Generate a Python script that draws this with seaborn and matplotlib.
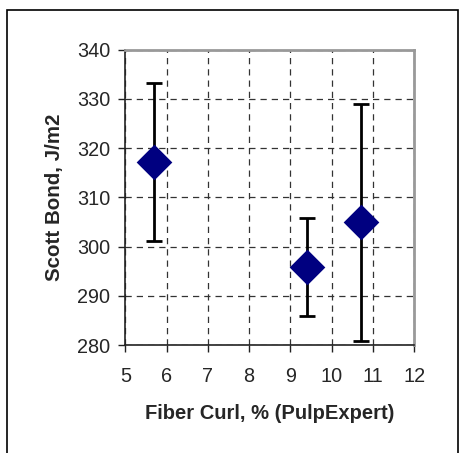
import matplotlib
matplotlib.use("Agg")
import matplotlib.pyplot as plt
import seaborn as sns
import pandas as pd
from matplotlib.patches import Rectangle

# Fiber curl vs. Scott bond, mean with error range
fiber_curl = [5.7, 9.4, 10.7]
scott_bond = [317.2, 295.9, 304.9]
err_low = [16.0, 10.0, 24.0]
err_high = [16.0, 10.0, 24.0]

x_ticks = [5, 6, 7, 8, 9, 10, 11, 12]
y_ticks = [280, 290, 300, 310, 320, 330, 340]

sns.set_style("white")
plt.rcParams["font.family"] = ["Liberation Sans", "DejaVu Sans"]

df = pd.DataFrame({"curl": fiber_curl, "bond": scott_bond})

fig = plt.figure(figsize=(4.59, 4.53), dpi=100)
ax = fig.add_axes([0.273, 0.2384, 0.6296, 0.6519])

ax.errorbar(df["curl"], df["bond"], yerr=[err_low, err_high], fmt="none",
            ecolor="black", elinewidth=2.0, capsize=5.5, capthick=2.0, zorder=3)
sns.scatterplot(data=df, x="curl", y="bond", marker="D", s=330, color="#000080",
                edgecolor="#000080", linewidth=0, ax=ax, zorder=4)

ax.set_xlim(5, 12)
ax.set_ylim(280, 340)
ax.set_xticks(x_ticks)
ax.set_yticks(y_ticks)
ax.set_xticklabels([str(v) for v in x_ticks])
ax.set_yticklabels([str(v) for v in y_ticks])

ax.grid(True, color="#333333", linestyle=(0, (5, 4)), linewidth=0.9)
ax.set_axisbelow(True)

for side in ("top", "right"):
    ax.spines[side].set_color("#999999")
    ax.spines[side].set_linewidth(2.0)
for side in ("left", "bottom"):
    ax.spines[side].set_color("#222222")
    ax.spines[side].set_linewidth(1.2)

ax.tick_params(axis="both", which="major", direction="out", length=5, width=1,
               color="#222222", labelsize=14.3, bottom=True, left=True)
ax.tick_params(axis="y", pad=6)
ax.tick_params(axis="x", pad=11)

ax.set_xlabel("Fiber Curl, % (PulpExpert)", fontsize=14.5, fontweight="bold", labelpad=13)
ax.set_ylabel("Scott Bond, J/m2", fontsize=14.8, fontweight="bold", labelpad=9)

# outer frame around the figure
fig.patches.append(Rectangle((7 / 459, -0.1), (458 - 7) / 459, (453 - 10) / 453 + 0.1,
                             transform=fig.transFigure, fill=False,
                             edgecolor="black", linewidth=1.2, zorder=10))

fig.savefig("out.png", dpi=100)
